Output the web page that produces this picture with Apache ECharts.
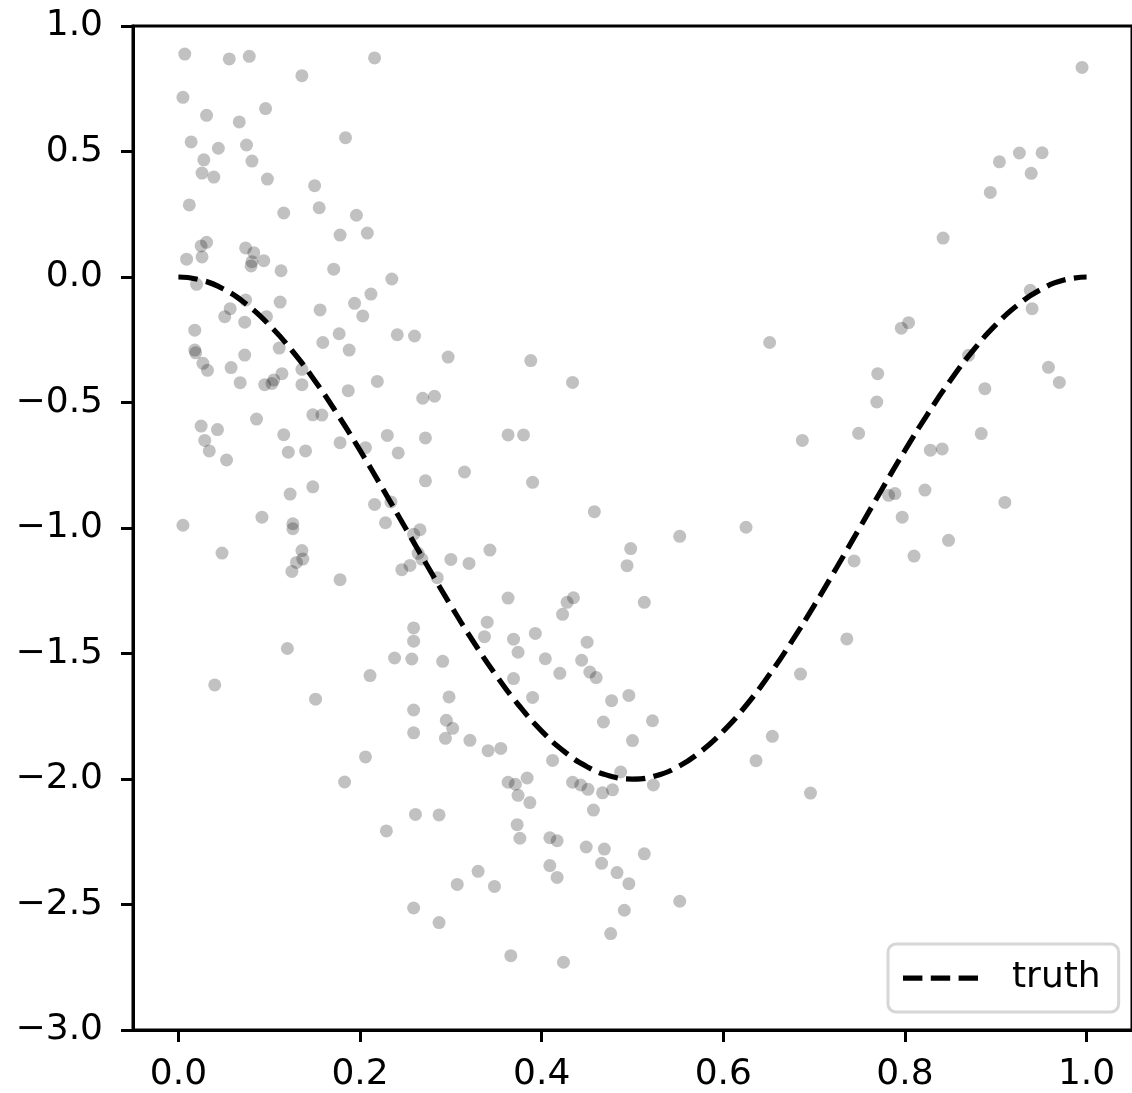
<!DOCTYPE html>
<html>
<head>
<meta charset="utf-8">
<script src="https://cdn.jsdelivr.net/npm/echarts@6/dist/echarts.min.js"></script>
<style>
  html, body { margin: 0; padding: 0; background: #fff; }
  #chart { width: 1132px; height: 1093px; }
</style>
</head>
<body>
<div id="chart"></div>
<script>
const pointX = [
  0.007,0.056,0.078,0.216,0.136,0.005,0.096,0.031,0.067,0.184,
  0.014,0.044,0.075,0.028,0.081,0.026,0.039,0.098,0.150,0.012,
  0.155,0.116,0.196,0.178,0.208,0.031,0.025,0.074,0.083,0.009,
  0.026,0.081,0.080,0.094,0.113,0.171,0.235,0.020,0.074,0.057,
  0.051,0.073,0.097,0.112,0.156,0.194,0.212,0.203,0.018,0.018,
  0.019,0.159,0.177,0.188,0.241,0.260,0.111,0.073,0.297,0.027,
  0.032,0.058,0.114,0.136,0.068,0.095,0.105,0.103,0.136,0.187,
  0.219,0.269,0.282,0.025,0.043,0.086,0.148,0.158,0.029,0.034,
  0.053,0.116,0.121,0.140,0.178,0.206,0.230,0.242,0.272,0.315,
  0.272,0.148,0.123,0.216,0.234,0.228,0.092,0.005,0.126,0.126,
  0.266,0.259,0.048,0.136,0.137,0.130,0.125,0.178,0.264,0.268,
  0.255,0.246,0.285,0.300,0.320,0.259,0.259,0.120,0.238,0.257,
  0.291,0.040,0.211,0.151,0.298,0.259,0.259,0.295,0.302,0.294,
  0.321,0.206,0.183,0.261,0.287,0.229,0.330,0.307,0.259,0.287,
  0.651,0.388,0.434,0.363,0.380,0.390,0.458,0.625,0.552,0.687,
  0.343,0.498,0.494,0.363,0.435,0.428,0.423,0.513,0.340,0.337,
  0.369,0.393,0.374,0.450,0.404,0.444,0.369,0.420,0.453,0.460,
  0.390,0.477,0.496,0.468,0.522,0.500,0.654,0.636,0.685,0.341,
  0.355,0.412,0.363,0.371,0.384,0.374,0.387,0.434,0.443,0.451,
  0.467,0.478,0.487,0.523,0.457,0.373,0.376,0.409,0.417,0.449,
  0.469,0.513,0.466,0.483,0.496,0.348,0.409,0.417,0.552,0.491,
  0.476,0.366,0.424,0.995,0.904,0.926,0.951,0.939,0.894,0.842,
  0.938,0.940,0.804,0.796,0.870,0.958,0.970,0.770,0.769,0.888,
  0.749,0.884,0.828,0.841,0.782,0.789,0.822,0.910,0.797,0.848,
  0.810,0.744,0.736,0.696
];
const pointY = [
  0.888,0.869,0.879,0.873,0.802,0.716,0.671,0.644,0.618,0.555,
  0.538,0.513,0.526,0.467,0.462,0.414,0.398,0.390,0.364,0.287,
  0.276,0.255,0.246,0.167,0.175,0.138,0.124,0.116,0.097,0.071,
  0.080,0.061,0.044,0.065,0.025,0.031,-0.008,-0.029,-0.092,-0.126,
  -0.158,-0.180,-0.158,-0.100,-0.131,-0.105,-0.068,-0.155,-0.212,-0.291,
  -0.302,-0.261,-0.226,-0.291,-0.230,-0.235,-0.283,-0.311,-0.319,-0.344,
  -0.372,-0.361,-0.385,-0.368,-0.421,-0.429,-0.410,-0.424,-0.429,-0.453,
  -0.416,-0.483,-0.475,-0.594,-0.608,-0.566,-0.549,-0.550,-0.651,-0.693,
  -0.729,-0.628,-0.698,-0.693,-0.660,-0.680,-0.631,-0.701,-0.641,-0.777,
  -0.812,-0.836,-0.865,-0.906,-0.896,-0.979,-0.957,-0.989,-0.983,-1.003,
  -1.007,-1.025,-1.100,-1.090,-1.124,-1.137,-1.173,-1.206,-1.101,-1.124,
  -1.149,-1.166,-1.198,-1.125,-1.141,-1.398,-1.451,-1.480,-1.518,-1.522,
  -1.531,-1.625,-1.588,-1.682,-1.673,-1.725,-1.816,-1.766,-1.798,-1.838,
  -1.846,-1.912,-2.012,-2.141,-2.143,-2.207,-2.368,-2.420,-2.514,-2.572,
  -0.261,-0.333,-0.420,-0.629,-0.629,-0.818,-0.935,-0.997,-1.033,-0.651,
  -1.088,-1.082,-1.150,-1.279,-1.278,-1.296,-1.344,-1.296,-1.375,-1.433,
  -1.443,-1.420,-1.495,-1.455,-1.521,-1.527,-1.600,-1.579,-1.574,-1.596,
  -1.675,-1.688,-1.667,-1.773,-1.768,-1.847,-1.830,-1.927,-1.582,-1.887,
  -1.878,-1.926,-2.013,-2.021,-1.996,-2.065,-2.094,-2.013,-2.024,-2.041,
  -2.055,-2.043,-1.972,-2.024,-2.124,-2.182,-2.236,-2.234,-2.246,-2.271,
  -2.279,-2.298,-2.336,-2.373,-2.417,-2.428,-2.345,-2.392,-2.487,-2.523,
  -2.616,-2.704,-2.730,0.835,0.459,0.494,0.495,0.413,0.337,0.155,
  -0.053,-0.126,-0.182,-0.204,-0.312,-0.360,-0.420,-0.385,-0.498,-0.445,
  -0.623,-0.624,-0.690,-0.685,-0.870,-0.863,-0.849,-0.898,-0.957,-1.049,
  -1.112,-1.131,-1.442,-2.056
];

// "truth" curve
const truthX = [
  0,0.025,0.05,0.075,0.1,0.125,0.15,0.175,0.2,0.225,
  0.25,0.275,0.3,0.325,0.35,0.375,0.4,0.425,0.45,0.475,
  0.5,0.525,0.55,0.575,0.6,0.625,0.65,0.675,0.7,0.725,
  0.75,0.775,0.8,0.825,0.85,0.875,0.9,0.925,0.95,0.975,1
];
const truthY = [
  0,-0.0123,-0.0489,-0.1090,-0.1910,-0.2929,-0.4122,-0.5460,-0.6910,-0.8436,
  -1,-1.1564,-1.3090,-1.4540,-1.5878,-1.7071,-1.8090,-1.8910,-1.9511,-1.9877,
  -2,-1.9877,-1.9511,-1.8910,-1.8090,-1.7071,-1.5878,-1.4540,-1.3090,-1.1564,
  -1,-0.8436,-0.6910,-0.5460,-0.4122,-0.2929,-0.1910,-0.1090,-0.0489,-0.0123,0
];

const xTicks = [0, 0.2, 0.4, 0.6, 0.8, 1.0];
const legendName = 'truth';

const FONT = 'DejaVu Sans';
const fmt = v => (v < -1e-9 ? '\u2212' : '') + Math.abs(v).toFixed(1);

const chart = echarts.init(document.getElementById('chart'), null, { renderer: 'canvas' });

chart.setOption({
  backgroundColor: '#ffffff',
  animation: false,
  grid: {
    left: 133, top: 26, width: 1003, height: 1004,
    show: true, borderColor: '#000', borderWidth: 3, backgroundColor: 'transparent'
  },
  xAxis: {
    type: 'value', min: -0.05, max: 1.05,
    splitLine: { show: false },
    axisLine: { show: true, onZero: false, lineStyle: { color: '#000', width: 3 } },
    axisTick: { show: true, length: 12, lineStyle: { color: '#000', width: 3 }, customValues: xTicks },
    axisLabel: {
      customValues: xTicks, formatter: fmt, margin: 27,
      fontFamily: FONT, fontSize: 36, color: '#000'
    }
  },
  yAxis: {
    type: 'value', min: -3, max: 1, interval: 0.5,
    splitLine: { show: false },
    axisLine: { show: true, onZero: false, lineStyle: { color: '#000', width: 3 } },
    axisTick: { show: true, length: 12, lineStyle: { color: '#000', width: 3 } },
    axisLabel: {
      formatter: fmt, margin: 30,
      fontFamily: FONT, fontSize: 36, color: '#000'
    }
  },
  legend: {
    data: [{ name: legendName, icon: 'path://M0,0h19.4v5.25h-19.4z M27.8,0h19.4v5.25h-19.4z M55.6,0h19.4v5.25h-19.4z' }],
    left: 888, top: 944,
    orient: 'horizontal',
    padding: [16, 18, 16, 15],
    backgroundColor: '#ffffff',
    borderColor: '#d6d6d6', borderWidth: 3, borderRadius: 8,
    itemWidth: 75, itemHeight: 5.25,
    selectedMode: false,
    itemStyle: { color: '#000', borderWidth: 0 },
    textStyle: { fontFamily: FONT, fontSize: 36, color: '#000', padding: [0, 0, 0, 29] }
  },
  series: [
    {
      type: 'scatter',
      name: 'obs',
      symbol: 'circle',
      symbolSize: 13,
      itemStyle: { color: 'rgba(0,0,0,0.3)' },
      data: pointX.map((x, i) => [x, pointY[i]]),
      z: 2
    },
    {
      type: 'line',
      name: legendName,
      symbol: 'none',
      smooth: true,
      itemStyle: { color: '#000' },
      lineStyle: { color: '#000', width: 5.25, type: [19.4, 8.4], cap: 'butt' },
      data: truthX.map((x, i) => [x, truthY[i]]),
      z: 3
    }
  ]
});
</script>
</body>
</html>
